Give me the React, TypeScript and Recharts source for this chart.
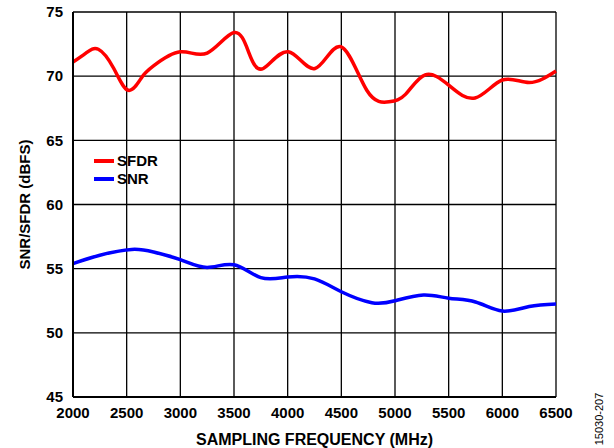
import React from 'react';
import { LineChart, Line, XAxis, YAxis, CartesianGrid } from 'recharts';

const freqTicks = [2000, 2500, 3000, 3500, 4000, 4500, 5000, 5500, 6000, 6500];
const dbTicks = [45, 50, 55, 60, 65, 70, 75];

const sfdrFreq = [2000, 2120, 2236, 2380, 2515, 2640, 2750, 3000, 3250, 3500, 3640, 3773, 4006, 4255, 4495, 4737, 4945, 5100, 5281, 5500, 5746, 6000, 6250, 6500];
const sfdrVals = [71.1, 71.8, 72.1, 70.6, 68.9, 69.9, 70.8, 71.9, 71.8, 73.4, 71.8, 70.6, 71.9, 70.6, 72.3, 68.9, 68.0, 68.6, 70.1, 69.3, 68.3, 69.7, 69.5, 70.4];

const snrFreq = [2000, 2250, 2547, 2750, 3000, 3250, 3500, 3750, 4000, 4250, 4500, 4784, 5000, 5265, 5500, 5750, 6000, 6250, 6500];
const snrVals = [55.4, 56.05, 56.5, 56.3, 55.7, 55.1, 55.3, 54.3, 54.35, 54.2, 53.2, 52.35, 52.5, 52.95, 52.7, 52.4, 51.7, 52.05, 52.25];

const sfdrData = sfdrFreq.map((f, i) => ({ freq: f, sfdr: sfdrVals[i] }));
const snrData = snrFreq.map((f, i) => ({ freq: f, snr: snrVals[i] }));

const legendItems = [
  { name: 'SFDR', color: '#ff0000' },
  { name: 'SNR', color: '#0000ff' },
];

const font = '"Liberation Sans", Arial, sans-serif';
const tickStyle = { fontFamily: font, fontSize: 15, fontWeight: 700, fill: '#000' };

export default function App() {
  return (
    <div style={{ position: 'absolute', left: 0, top: 0, width: 614, height: 448, background: '#fff' }}>
      <LineChart width={614} height={448} margin={{ top: 12, right: 58, left: 0, bottom: 0 }}>
        <CartesianGrid stroke="#000" strokeWidth={1.3} />
        <XAxis
          dataKey="freq"
          type="number"
          domain={[2000, 6500]}
          ticks={freqTicks}
          allowDuplicatedCategory={false}
          axisLine={{ stroke: '#000', strokeWidth: 2 }}
          tickLine={false}
          tickSize={0}
          tickMargin={10}
          height={51}
          tick={tickStyle}
          label={{ value: 'SAMPLING FREQUENCY (MHz)', position: 'insideBottom', offset: 3, style: { ...tickStyle, fontSize: 16 } }}
        />
        <YAxis
          type="number"
          domain={[45, 75]}
          ticks={dbTicks}
          axisLine={{ stroke: '#000', strokeWidth: 2 }}
          tickLine={false}
          tickSize={0}
          tickMargin={10}
          width={73}
          tick={tickStyle}
          label={{ value: 'SNR/SFDR (dBFS)', angle: -90, position: 'center', dx: -12, style: { ...tickStyle } }}
        />
        <Line data={sfdrData} dataKey="sfdr" type="natural" stroke="#ff0000" strokeWidth={3.5} dot={false} isAnimationActive={false} />
        <Line data={snrData} dataKey="snr" type="natural" stroke="#0000ff" strokeWidth={3.5} dot={false} isAnimationActive={false} />
      </LineChart>
      <div
        style={{
          position: 'absolute',
          left: 94,
          top: 152,
          fontFamily: font,
          fontSize: 15,
          fontWeight: 700,
          lineHeight: '18px',
        }}
      >
        {legendItems.map((it) => (
          <div key={it.name} style={{ display: 'flex', alignItems: 'center' }}>
            <svg width={23} height={18}>
              <line x1={0} y1={9} x2={20} y2={9} stroke={it.color} strokeWidth={4} />
            </svg>
            <span>{it.name}</span>
          </div>
        ))}
      </div>
      <div
        style={{
          position: 'absolute',
          left: 599,
          top: 419,
          transform: 'translate(-50%, -50%) rotate(-90deg)',
          fontFamily: font,
          fontSize: 11,
          whiteSpace: 'nowrap',
        }}
      >
        15030-207
      </div>
    </div>
  );
}
